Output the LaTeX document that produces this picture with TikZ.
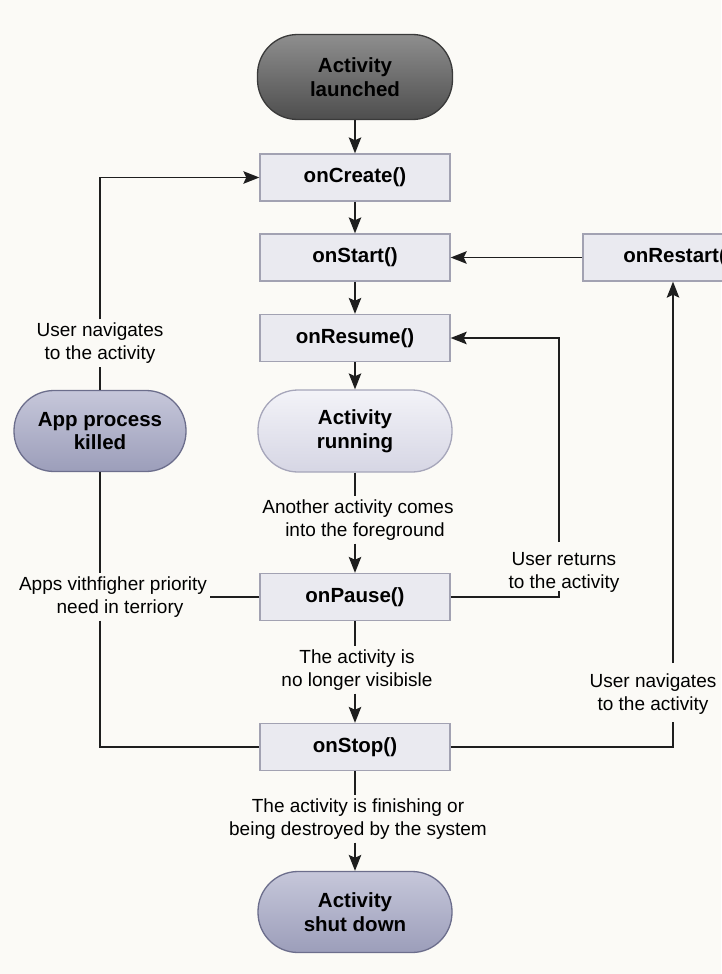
\documentclass[tikz,border=0pt]{standalone}
\usepackage{fontspec}
\setmainfont{Liberation Sans}
\usetikzlibrary{arrows.meta}
\definecolor{paper}{HTML}{FBFAF6}
\definecolor{ink}{HTML}{1E1E1E}
\definecolor{boxfill}{HTML}{EAEAF0}
\definecolor{boxline}{HTML}{A2A2B2}
\definecolor{darktop}{HTML}{8E8E8E}
\definecolor{darkbot}{HTML}{4E4E4E}
\definecolor{darkline}{HTML}{3A3A3A}
\definecolor{lighttop}{HTML}{F3F3F8}
\definecolor{lightbot}{HTML}{D6D6E4}
\definecolor{lightline}{HTML}{A6A6BA}
\definecolor{midtop}{HTML}{C6C7DA}
\definecolor{midbot}{HTML}{9C9EBA}
\definecolor{midline}{HTML}{6C6E8C}
\tikzset{
  stepbox/.style={draw=boxline, line width=1.3pt, fill=boxfill,
    minimum width=190pt, minimum height=47pt, inner sep=0pt,
    font=\fontsize{20.5}{23}\selectfont\bfseries, text=black},
  pill/.style={line width=1.3pt, rounded corners=40pt,
    minimum width=194pt, minimum height=82pt, inner sep=0pt, align=center,
    font=\fontsize{20.5}{23.5}\selectfont\bfseries, text=black},
  darkpill/.style={pill, draw=darkline, top color=darktop, bottom color=darkbot},
  lightpill/.style={pill, draw=lightline, top color=lighttop, bottom color=lightbot},
  midpill/.style={pill, draw=midline, top color=midtop, bottom color=midbot},
  note/.style={align=center, inner sep=3pt,
    font=\fontsize{19}{23}\selectfont, text=black},
  link/.style={draw=ink, line width=1.7pt},
  arr/.style={link, -{Stealth[length=16pt, width=12.5pt, inset=3pt]}}
}
\begin{document}
\begin{tikzpicture}[x=1pt, y=-1pt]
\useasboundingbox (0,0) rectangle (721,974);
\fill[paper] (0,0) rectangle (721,974);

% lifecycle states and callbacks
\node[darkpill, minimum width=195pt, minimum height=85pt] (launch) at (355,77) {Activity\\launched};
\node[stepbox] (create) at (355,177.5) {onCreate()};
\node[stepbox] (start) at (355,257.5) {onStart()};
\node[stepbox] (resume) at (355,338) {onResume()};
\node[lightpill] (running) at (355,431) {Activity\\running};
\node[stepbox] (pause) at (355,597) {onPause()};
\node[stepbox] (stop) at (355,747) {onStop()};
\node[midpill, minimum height=81pt] (shut) at (355,912) {Activity\\shut down};
\node[stepbox] (restart) at (678,257.5) {onRestart()};
\node[midpill, minimum width=172pt, minimum height=81pt] (killed) at (100,431) {App process\\killed};

% transition labels
\node[note] (navA) at (100,343) {User navigates\\to the activity};
\node[note] (fg) at (358,520) {Another activity comes\\\hspace*{14pt}into the foreground};
\node[note] (ret) at (564,572) {User returns\\to the activity};
\node[note] (prio) at (113,597) {Apps vithfigher priority\\\hspace*{14pt}need in terriory};
\node[note] (vis) at (357,670) {The activity is\\no longer visibisle};
\node[note] (navB) at (653,694) {User navigates\\to the activity};
\node[note] (fin) at (358,819) {The activity is finishing or\\being destroyed by the system};

% free ends of the right-hand loops
\coordinate (retTop) at (559,542);
\coordinate (retBot) at (559,591);
\coordinate (navTop) at (673,663);
\coordinate (navBot) at (673,722);

% main column
\draw[arr] (launch) -- (create);
\draw[arr] (create) -- (start);
\draw[arr] (start) -- (resume);
\draw[arr] (resume) -- (running);
\draw[link] (running.south) -- (running.south |- fg.north);
\draw[arr] (running.south |- fg.south) -- (pause.north);
\draw[link] (pause.south) -- (pause.south |- vis.north);
\draw[arr] (pause.south |- vis.south) -- (stop.north);
\draw[link] (stop.south) -- (stop.south |- fin.north);
\draw[arr] (stop.south |- fin.south) -- (shut.north);

% restart path
\draw[arr] (restart.west) -- (start.east);
\draw[link] (stop.east) -| (navBot);
\draw[arr] (navTop) -- (navTop |- restart.south);

% resume path
\draw[link] (pause.east) -| (retBot);
\draw[arr] (retTop) |- (resume.east);

% process killed path
\draw[link] (pause.west) -- (prio.east);
\draw[link] (killed.south) -- (killed.south |- prio.north);
\draw[link] (killed.south |- prio.south) |- (stop.west);
\draw[link] (killed.north) -- (navA.south);
\draw[arr] (navA.north) |- (create.west);
\end{tikzpicture}
\end{document}
